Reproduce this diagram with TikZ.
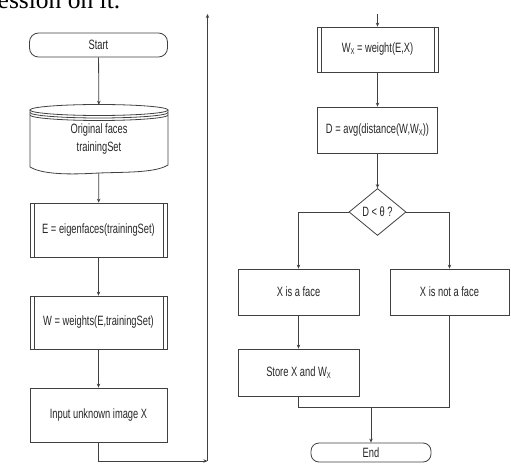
\documentclass[tikz,border=0pt]{standalone}
\usepackage{fontspec}
\usetikzlibrary{arrows.meta,shapes.geometric,calc}
\newfontfamily\labfont{Liberation Sans}[FakeStretch=0.69]
\newfontfamily\fragfont{Liberation Serif}
\newcommand\Wsub{W\raisebox{-2bp}{\fontsize{8.5bp}{8.5bp}\selectfont X}}
\tikzset{
  ln/.style={draw=black!75, line width=0.8bp},
  arr/.style={ln, -{Stealth[length=4bp,width=3.5bp]}},
  lab/.style={font=\labfont\fontsize{13.5bp}{18bp}\selectfont, text=black!85, align=center, inner sep=0pt},
  box/.style={lab, ln, rectangle},
  predef/.style={box, path picture={
      \draw[ln] ([xshift=4bp]path picture bounding box.north west) -- ([xshift=4bp]path picture bounding box.south west);
      \draw[ln] ([xshift=-4bp]path picture bounding box.north east) -- ([xshift=-4bp]path picture bounding box.south east);}},
  term/.style={box, rounded corners=9bp},
  decis/.style={lab, ln, diamond, aspect=1.19, minimum width=57bp, minimum height=47bp}
}
\begin{document}
\begin{tikzpicture}[x=1bp,y=-1bp]
\useasboundingbox (0,0) rectangle (511,466);
% fragment of surrounding text
\node[anchor=base west, inner sep=0pt, font=\fragfont\fontsize{25.5bp}{26bp}\selectfont] (frag) at (-2.5,9) {ession on it.};

% left column
\node[term, minimum width=138bp, minimum height=24bp] (start) at (98.5,45) {Start};
\node[lab, minimum width=138bp, minimum height=68bp] (db) at (99,139) {Original faces\\trainingSet};
\draw[ln] (99,110) ellipse [x radius=69, y radius=5.5];
\draw[ln] (30,112.5) .. controls (30,115.5) and (61,118) .. (99,118) .. controls (137,118) and (168,115.5) .. (168,112.5);
\draw[ln] (30,115) .. controls (30,118) and (61,120.5) .. (99,120.5) .. controls (137,120.5) and (168,118) .. (168,115);
\draw[ln] (30,110) -- (30,167) .. controls (45,176) and (80,174) .. (99,173) .. controls (125,172) and (155,173) .. (168,165) -- (168,110);
\node[predef, minimum width=137bp, minimum height=54bp] (eig) at (98.5,230) {E = eigenfaces(trainingSet)};
\node[predef, minimum width=137bp, minimum height=53bp] (wts) at (98.5,322.5) {W = weights(E,trainingSet)};
\node[box, minimum width=137bp, minimum height=54bp] (inp) at (98.5,415) {Input unknown image X};
\coordinate (c1) at (207.5,461);
\coordinate (c0) at (207.5,14);

% right column
\coordinate (c2) at (377.5,14);
\node[predef, minimum width=121bp, minimum height=45bp] (wx) at (377.5,49.5) {\Wsub{} = weight(E,X)};
\node[box, minimum width=120bp, minimum height=46bp] (dd) at (377.5,130) {D = avg(distance(W,\Wsub))};
\node[decis] (dia) at (377.5,212) {D < θ ?};
\node[box, minimum width=121bp, minimum height=46bp] (face) at (298.5,292) {X is a face};
\node[box, minimum width=119bp, minimum height=46bp] (notface) at (449.5,292) {X is not a face};
\node[box, minimum width=121bp, minimum height=47bp] (store) at (298.5,372.5) {Store X and \Wsub};
\node[term, rounded corners=8bp, minimum width=120bp, minimum height=19bp] (endt) at (371,452.5) {End};
\coordinate (cm) at (371,407);

% connectors
\draw[arr] (start) -- (db);
\draw[arr] (db) -- (eig);
\draw[arr] (eig) -- (wts);
\draw[arr] (wts) -- (inp);
\draw[arr] (inp.south) |- (c1);
\draw[arr] (c1) -- (c0);
\draw[arr] (c2) -- (wx.north);
\draw[arr] (wx) -- (dd);
\draw[arr] (dd) -- (dia);
\draw[arr] (dia.west) -| (face.north);
\draw[arr] (dia.east) -| (notface.north);
\draw[arr] (face) -- (store);
\draw[ln] (store.south) |- (cm);
\draw[ln] (notface.south) |- (cm);
\draw[arr] (cm) -- (endt.north);
\end{tikzpicture}
\end{document}
